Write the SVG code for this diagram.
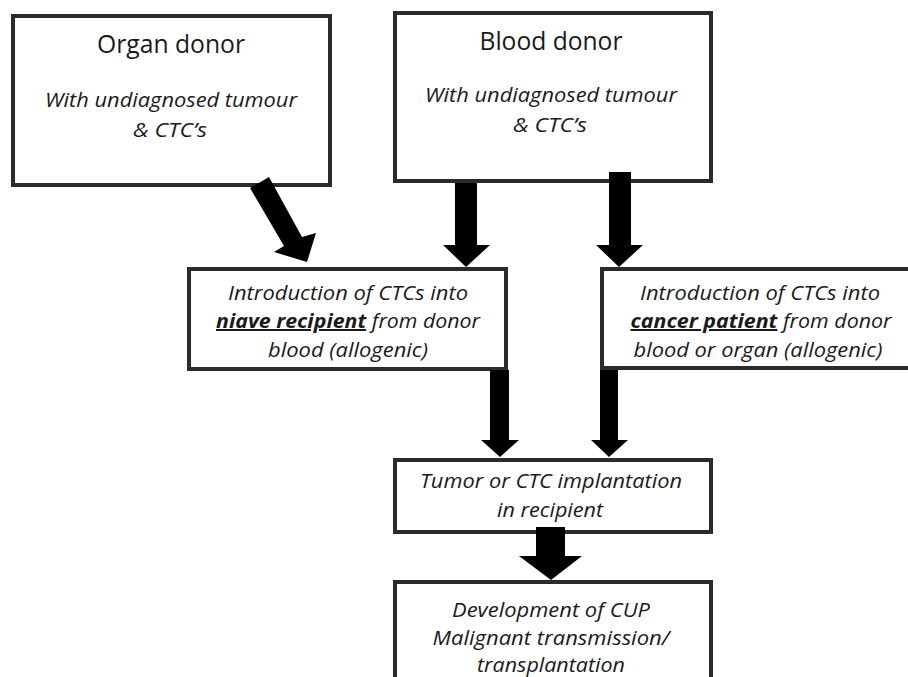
<svg xmlns="http://www.w3.org/2000/svg" width="908" height="677" viewBox="0 0 908 677">
<style>
.box{fill:#fff;stroke:#2b2b2b;stroke-width:4}
.title{font-family:"Open Sans","Noto Sans","Liberation Sans",sans-serif;font-size:25px;fill:#1a1a1a;text-anchor:middle}
.it{font-family:"Open Sans","Noto Sans","Liberation Sans",sans-serif;font-size:20px;font-style:italic;fill:#1a1a1a;text-anchor:middle}
.ul{font-weight:bold;text-decoration:underline}
.arr{fill:#000}
</style>
<rect width="908" height="677" fill="#fff"/>
<g id="organ-donor">
<rect class="box" x="13" y="16" width="317" height="169"/>
<text class="title" x="171" y="53" textLength="148" lengthAdjust="spacingAndGlyphs">Organ donor</text>
<text class="it" x="171" y="107" textLength="252" lengthAdjust="spacingAndGlyphs">With undiagnosed tumour</text>
<text class="it" x="170" y="137" textLength="74" lengthAdjust="spacingAndGlyphs">&amp; CTC’s</text>
</g>
<g id="blood-donor">
<rect class="box" x="395" y="13" width="316" height="168"/>
<text class="title" x="551" y="50" textLength="143" lengthAdjust="spacingAndGlyphs">Blood donor</text>
<text class="it" x="551" y="102" textLength="252" lengthAdjust="spacingAndGlyphs">With undiagnosed tumour</text>
<text class="it" x="550" y="132" textLength="74" lengthAdjust="spacingAndGlyphs">&amp; CTC’s</text>
</g>
<g id="naive-recipient">
<rect class="box" x="189" y="269" width="317" height="100"/>
<text class="it" x="348" y="300" textLength="240" lengthAdjust="spacingAndGlyphs">Introduction of CTCs into</text>
<text class="it" x="348" y="328" textLength="264" lengthAdjust="spacingAndGlyphs"><tspan class="ul">niave recipient</tspan> from donor</text>
<text class="it" x="348" y="357" textLength="160" lengthAdjust="spacingAndGlyphs">blood (allogenic)</text>
</g>
<g id="cancer-patient">
<rect class="box" x="602" y="269" width="320" height="99"/>
<text class="it" x="760" y="300" textLength="240" lengthAdjust="spacingAndGlyphs">Introduction of CTCs into</text>
<text class="it" x="761" y="328" textLength="261" lengthAdjust="spacingAndGlyphs"><tspan class="ul">cancer patient</tspan> from donor</text>
<text class="it" x="758" y="357" textLength="249" lengthAdjust="spacingAndGlyphs">blood or organ (allogenic)</text>
</g>
<g id="implantation">
<rect class="box" x="395" y="460" width="316" height="72"/>
<text class="it" x="551" y="488" textLength="262" lengthAdjust="spacingAndGlyphs">Tumor or CTC implantation</text>
<text class="it" x="550" y="517" textLength="106" lengthAdjust="spacingAndGlyphs">in recipient</text>
</g>
<g id="development">
<rect class="box" x="395" y="582" width="316" height="110"/>
<text class="it" x="551" y="617" textLength="198" lengthAdjust="spacingAndGlyphs">Development of CUP</text>
<text class="it" x="551" y="645" textLength="237" lengthAdjust="spacingAndGlyphs">Malignant transmission/</text>
<text class="it" x="551" y="672" textLength="148" lengthAdjust="spacingAndGlyphs">transplantation</text>
</g>
<g id="connectors">
<polygon class="arr" points="250,188 269,177 302,237 316,233 307,262 274,252 284,246"/>
<polygon class="arr" points="455,183 477,183 477,245 490,245 466,267 443,245 455,245"/>
<polygon class="arr" points="609,172 631,172 631,245 643,245 619,267 596,245 609,245"/>
<polygon class="arr" points="490,370 509,370 509,440 519,440 500,457 481,440 490,440"/>
<polygon class="arr" points="600,370 618,370 618,440 628,440 609,457 591,440 600,440"/>
<polygon class="arr" points="536,527 565,527 565,556 582,556 551,580 519,556 536,556"/>
</g>
</svg>
